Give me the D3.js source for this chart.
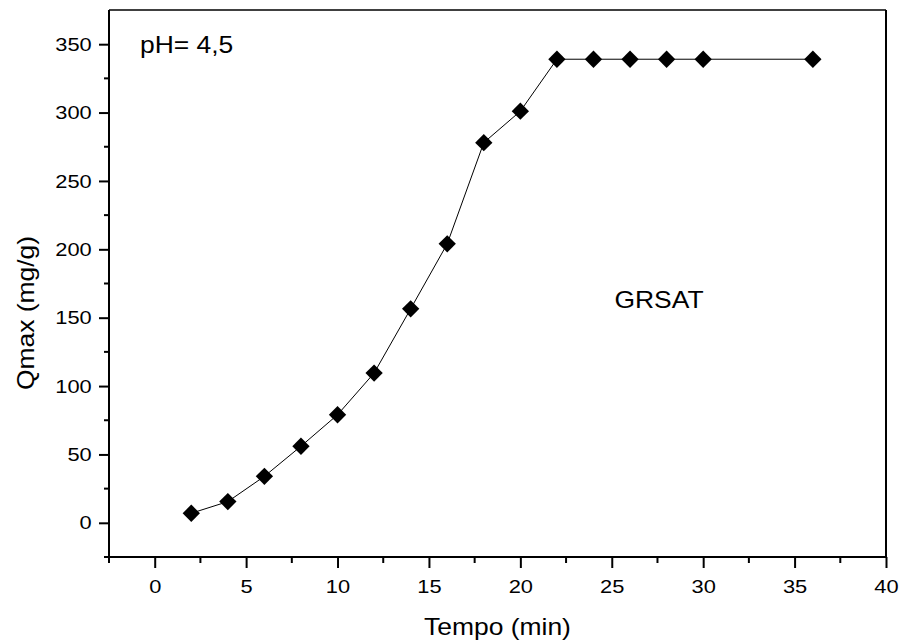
<!DOCTYPE html>
<html>
<head>
<meta charset="utf-8">
<script src="https://cdn.jsdelivr.net/npm/d3@7"></script>
<style>
  body { margin: 0; background: #fff; }
  text { font-family: "Liberation Sans", Arial, sans-serif; fill: #000; }
</style>
</head>
<body>
<svg id="chart" width="902" height="643"></svg>
<script>
// data
var tempo = [2, 4, 6, 8, 10, 12, 14, 16, 18, 20, 22, 24, 26, 28, 30, 36];
var qmax = [7, 15.5, 34, 56, 79, 109.5, 156.5, 204, 278, 301, 339, 339, 339, 339, 339, 339];
var xTicks = [0, 5, 10, 15, 20, 25, 30, 35, 40];
var yTicks = [0, 50, 100, 150, 200, 250, 300, 350];

var svg = d3.select('#chart');
var plotLeft = 109, plotRight = 886, plotTop = 10, plotBottom = 557;
var STRETCH = 1.15; // the exported text is a bit wider than plain Arial

var x = d3.scaleLinear().domain([-2.5, 40]).range([plotLeft, plotRight]);
var y = d3.scaleLinear().domain([-25, 375]).range([plotBottom, plotTop]);

// frame: top and right
svg.append('line')
    .attr('x1', plotLeft).attr('x2', plotRight)
    .attr('y1', plotTop).attr('y2', plotTop)
    .style('stroke', '#000').style('stroke-width', 1.5);
svg.append('line')
    .attr('x1', plotRight).attr('x2', plotRight)
    .attr('y1', plotTop).attr('y2', plotBottom)
    .style('stroke', '#000').style('stroke-width', 2);

// bottom axis with minor ticks
var xMinor = d3.range(-2.5, 40, 5);
var gx = svg.append('g').attr('transform', 'translate(0,' + plotBottom + ')');
gx.call(d3.axisBottom(x).tickValues(xTicks).tickSizeInner(11).tickSizeOuter(0).tickPadding(12));
gx.selectAll('line.minor').data(xMinor).enter()
    .append('line')
    .attr('class', 'minor')
    .attr('x1', function(d) { return x(d); })
    .attr('x2', function(d) { return x(d); })
    .attr('y1', 0).attr('y2', 6)
    .style('stroke', '#000').style('stroke-width', 2);

// left axis with minor ticks
var yMinor = d3.range(-25, 375, 50);
var gy = svg.append('g').attr('transform', 'translate(' + plotLeft + ',0)');
gy.call(d3.axisLeft(y).tickValues(yTicks).tickSizeInner(10).tickSizeOuter(0).tickPadding(5));
gy.selectAll('line.minor').data(yMinor).enter()
    .append('line')
    .attr('class', 'minor')
    .attr('x1', 0).attr('x2', -5)
    .attr('y1', function(d) { return y(d); })
    .attr('y2', function(d) { return y(d); })
    .style('stroke', '#000').style('stroke-width', 2);

[gx, gy].forEach(function(g) {
    g.select('path.domain').style('stroke', '#000').style('stroke-width', 2);
    g.selectAll('.tick line').style('stroke', '#000').style('stroke-width', 2);
    g.selectAll('.tick text')
        .style('font-family', '"Liberation Sans", Arial, sans-serif')
        .style('font-size', '19px')
        .attr('fill', '#000')
        .attr('transform', 'scale(' + STRETCH + ',1)');
});
gx.select('path.domain').attr('d', 'M' + plotLeft + ',0H' + plotRight);
gy.select('path.domain').attr('d', 'M0,' + plotTop + 'V' + plotBottom);

// series line
var line = d3.line()
    .x(function(d, i) { return x(tempo[i]); })
    .y(function(d) { return y(d); });
svg.append('path')
    .datum(qmax)
    .attr('d', line)
    .style('fill', 'none')
    .style('stroke', '#000')
    .style('stroke-width', 1);

// diamond markers
var diamond = d3.symbol().type(d3.symbolSquare).size(150);
svg.selectAll('path.marker')
    .data(qmax)
    .enter()
    .append('path')
    .attr('class', 'marker')
    .attr('d', diamond)
    .attr('transform', function(d, i) {
        return 'translate(' + x(tempo[i]) + ',' + y(d) + ') rotate(45)';
    })
    .style('fill', '#000');

// labels
function label(tx, ty, rot, anchor, size, str) {
    svg.append('text')
        .attr('transform', 'translate(' + tx + ',' + ty + ') rotate(' + rot + ') scale(' + STRETCH + ',1)')
        .attr('text-anchor', anchor)
        .style('font-size', size + 'px')
        .text(str);
}
label(140, 53, 0, 'start', 23, 'pH= 4,5');
label(659, 308, 0, 'middle', 23, 'GRSAT');
label((plotLeft + plotRight) / 2, 635, 0, 'middle', 23, 'Tempo (min)');
label(34, 313, -90, 'middle', 23, 'Qmax (mg/g)');
</script>
</body>
</html>
